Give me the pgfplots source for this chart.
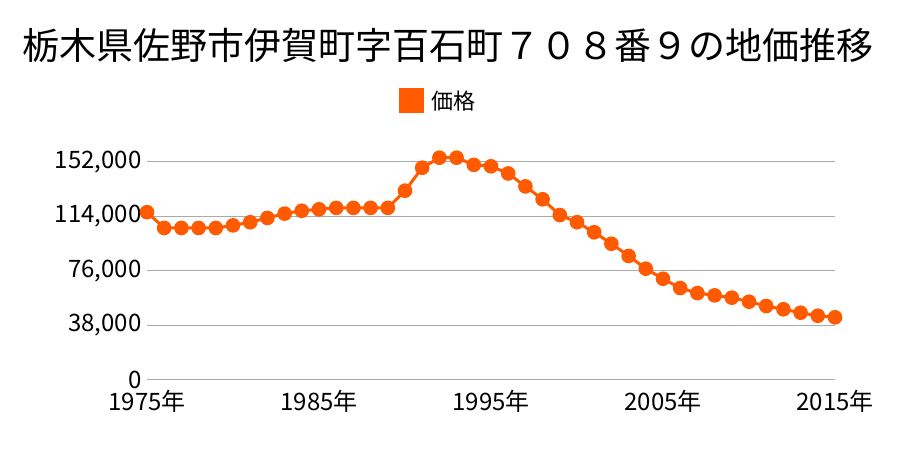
\documentclass[border=0pt]{standalone}
\usepackage{pgfplots}
\pgfplotsset{compat=1.18}
\usepackage{fontspec}
\setmainfont{Noto Sans CJK JP}
\definecolor{ser}{RGB}{255,90,0}
\definecolor{gridc}{RGB}{170,170,170}
\begin{document}
\begin{tikzpicture}[x=1bp,y=1bp]
\path (0,0) rectangle (900,450);
\node[font=\fontsize{37bp}{42bp}\selectfont] at (448,405) {栃木県佐野市伊賀町字百石町７０８番９の地価推移};
\begin{axis}[
  at={(147bp,70bp)}, anchor=south west,
  scale only axis, width=688bp, height=218bp,
  xmin=1975, xmax=2015, ymin=0, ymax=152000,
  /pgf/number format/assume math mode=true,
  /pgf/number format/fixed,
  /pgf/number format/1000 sep={,},
  axis line style={draw=none},
  tick style={draw=none},
  ytick={0,38000,76000,114000,152000},
  xtick={1975,1985,1995,2005,2015},
  xticklabels={1975年,1985年,1995年,2005年,2015年},
  scaled y ticks=false,
  ticklabel style={font=\fontsize{24bp}{28bp}\selectfont},
  xticklabel style={yshift=-7bp},
  yticklabel style={xshift=-2bp},
  ymajorgrids, grid style={color=gridc, line width=1bp},
  clip=false,
  legend style={at={(0.423,1.28)}, anchor=center, draw=none, fill=none,
    font=\fontsize{22bp}{26bp}\selectfont, inner sep=0pt, column sep=6bp},
  legend image code/.code={\fill[ser] (0bp,-11bp) rectangle (22bp,11bp);},
]
\addplot[ser, line width=3bp, mark=*, mark size=5.8bp, mark options={fill=ser, draw=ser}] coordinates {
(1975,117000) (1976,106000) (1977,106000) (1978,106000) (1979,106000)
(1980,107800) (1981,110000) (1982,113000) (1983,116000) (1984,118000)
(1985,119000) (1986,120000) (1987,120000) (1988,120000) (1989,120000)
(1990,132000) (1991,148000) (1992,155000) (1993,155000) (1994,150000)
(1995,149000) (1996,144000) (1997,135000) (1998,126000) (1999,115000)
(2000,110000) (2001,103000) (2002,95000) (2003,86500) (2004,77600)
(2005,70600) (2006,64100) (2007,60600) (2008,59000) (2009,57400)
(2010,54600) (2011,51600) (2012,49300) (2013,46900) (2014,44800)
(2015,43700)
};
\addlegendentry{価格}
\end{axis}
\end{tikzpicture}
\end{document}
